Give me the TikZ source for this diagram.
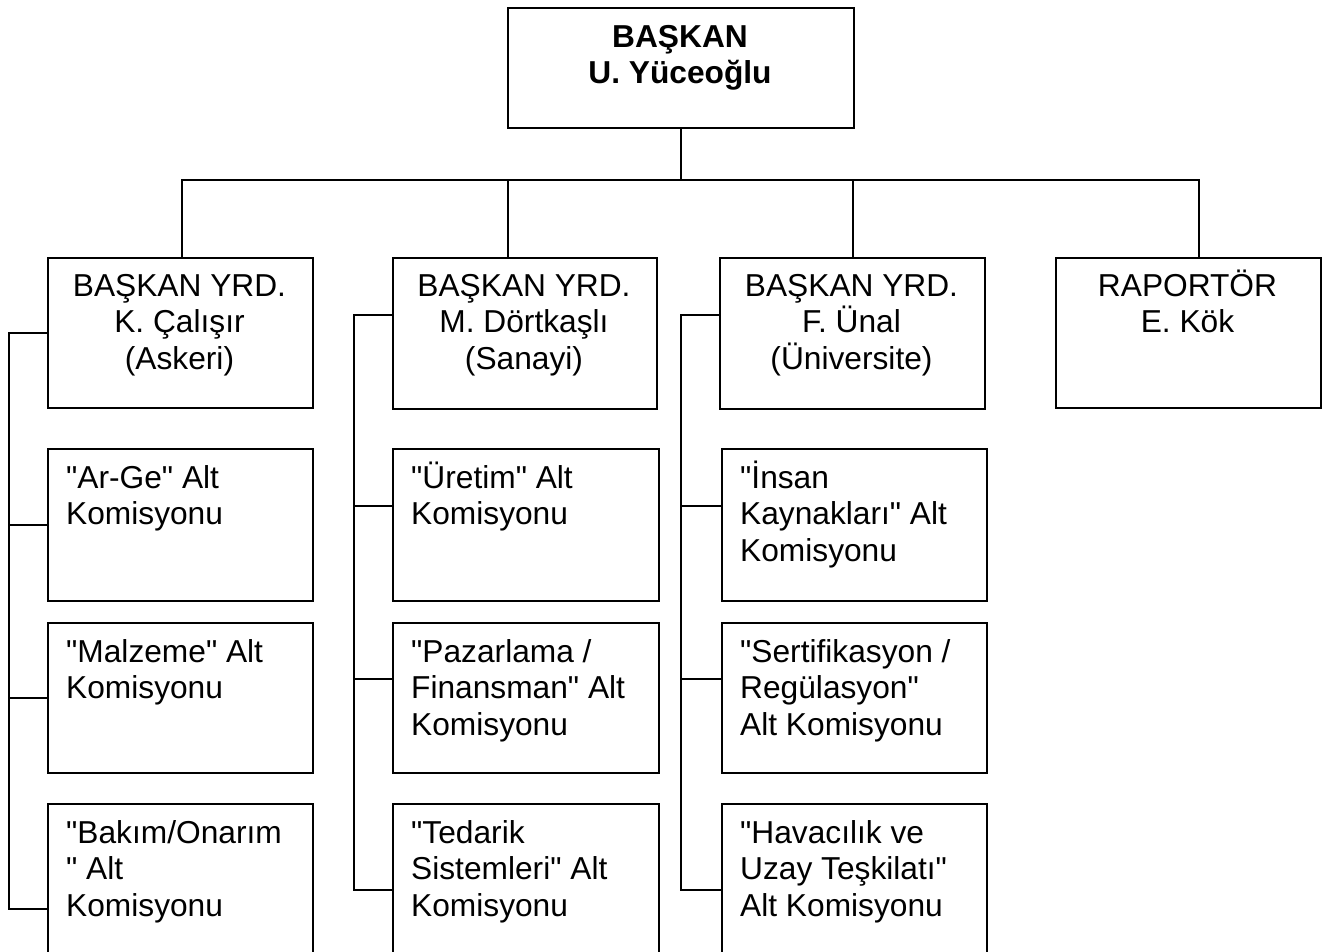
\documentclass[tikz,border=0pt]{standalone}
\usepackage{fontspec}
\setmainfont{Liberation Sans}[Ligatures=TeXOff]
\usetikzlibrary{calc}
\begin{document}
\begin{tikzpicture}[x=1pt,y=-1pt,
  box/.style={draw, line width=2pt, inner sep=0pt, anchor=north west},
  link/.style={line width=2pt},
  txt/.style={inner sep=0pt, font=\fontsize{31.7}{36.7}\selectfont},
  btxt/.style={inner sep=0pt, font=\fontsize{31.7}{36.2}\selectfont\bfseries, align=center, anchor=north},
  ctxt/.style={txt, align=center, anchor=north},
  ltxt/.style={txt, align=left, anchor=north west}]
\useasboundingbox (0,0) rectangle (1334,951);
\clip (0,0) rectangle (1334,951);
% boxes
\node[box, minimum width=346pt, minimum height=120pt] (top) at (507,7) {};
\node[box, minimum width=265pt, minimum height=150pt] (b1) at (47,257) {};
\node[box, minimum width=264pt, minimum height=151pt] (b2) at (392,257) {};
\node[box, minimum width=265pt, minimum height=151pt] (b3) at (719,257) {};
\node[box, minimum width=265pt, minimum height=150pt] (b4) at (1055,257) {};
\node[box, minimum width=265pt, minimum height=152pt] (a1) at (47,448) {};
\node[box, minimum width=265pt, minimum height=150pt] (a2) at (47,622) {};
\node[box, minimum width=265pt, minimum height=210pt] (a3) at (47,803) {};
\node[box, minimum width=266pt, minimum height=152pt] (m1) at (392,448) {};
\node[box, minimum width=266pt, minimum height=150pt] (m2) at (392,622) {};
\node[box, minimum width=266pt, minimum height=210pt] (m3) at (392,803) {};
\node[box, minimum width=265pt, minimum height=152pt] (u1) at (721,448) {};
\node[box, minimum width=265pt, minimum height=150pt] (u2) at (721,622) {};
\node[box, minimum width=265pt, minimum height=210pt] (u3) at (721,803) {};
% texts
\node[btxt] (ttop) at (680,17) {\rule{0pt}{30pt}BAŞKAN\\U. Yüceoğlu};
\node[ctxt] (tb1) at (179.5,266) {\rule{0pt}{30pt}BAŞKAN YRD.\\K. Çalışır\\(Askeri)};
\node[ctxt] (tb2) at (524,266) {\rule{0pt}{30pt}BAŞKAN YRD.\\M. Dörtkaşlı\\(Sanayi)};
\node[ctxt] (tb3) at (851.5,266) {\rule{0pt}{30pt}BAŞKAN YRD.\\F. Ünal\\(Üniversite)};
\node[ctxt] (tb4) at (1187.5,266) {\rule{0pt}{30pt}RAPORTÖR\\E. Kök};
\node[ltxt] (ta1) at (66,458) {\rule{0pt}{30pt}"Ar-Ge" Alt\\Komisyonu};
\node[ltxt] (ta2) at (66,632) {\rule{0pt}{30pt}"Malzeme" Alt\\Komisyonu};
\node[ltxt] (ta3) at (66,813) {\rule{0pt}{30pt}"Bakım/Onarım\\" Alt\\Komisyonu};
\node[ltxt] (tm1) at (411,458) {\rule{0pt}{30pt}"Üretim" Alt\\Komisyonu};
\node[ltxt] (tm2) at (411,632) {\rule{0pt}{30pt}"Pazarlama /\\Finansman" Alt\\Komisyonu};
\node[ltxt] (tm3) at (411,813) {\rule{0pt}{30pt}"Tedarik\\Sistemleri" Alt\\Komisyonu};
\node[ltxt] (tu1) at (740,458) {\rule{0pt}{30pt}"İnsan\\Kaynakları" Alt\\Komisyonu};
\node[ltxt] (tu2) at (740,632) {\rule{0pt}{30pt}"Sertifikasyon /\\Regülasyon"\\Alt Komisyonu};
\node[ltxt] (tu3) at (740,813) {\rule{0pt}{30pt}"Havacılık ve\\Uzay Teşkilatı"\\Alt Komisyonu};
% top connectors
\coordinate (bar) at (681,179.5);
\coordinate (d1) at (181.5,179.5);
\coordinate (d2) at (508,179.5);
\coordinate (d3) at (853,179.5);
\coordinate (d4) at (1199,179.5);
\draw[link] (bar |- top.south) -- (bar);
\draw[link] (b1.north -| d1) -- (d1) -- (d4) -- (d4 |- b4.north);
\draw[link] (d2) -- (d2 |- b2.north);
\draw[link] (d3) -- (d3 |- b3.north);
% left spines
\coordinate (s1) at (8.5,0);
\coordinate (s2) at (353.5,0);
\coordinate (s3) at (681,0);
\draw[link] (b1.west) -- (s1 |- b1.west) -- (s1 |- a3.west) -- (a3.west);
\draw[link] (s1 |- a1.west) -- (a1.west);
\draw[link] (s1 |- a2.west) -- (a2.west);
\draw[link] ($(b2.west)+(0,-19)$) -- ($(s2 |- b2.west)+(0,-19)$) -- ($(s2 |- m3.west)+(0,-19)$) -- ($(m3.west)+(0,-19)$);
\draw[link] ($(s2 |- m1.west)+(0,-19)$) -- ($(m1.west)+(0,-19)$);
\draw[link] ($(s2 |- m2.west)+(0,-19)$) -- ($(m2.west)+(0,-19)$);
\draw[link] ($(b3.west)+(0,-19)$) -- ($(s3 |- b3.west)+(0,-19)$) -- ($(s3 |- u3.west)+(0,-19)$) -- ($(u3.west)+(0,-19)$);
\draw[link] ($(s3 |- u1.west)+(0,-19)$) -- ($(u1.west)+(0,-19)$);
\draw[link] ($(s3 |- u2.west)+(0,-19)$) -- ($(u2.west)+(0,-19)$);
\end{tikzpicture}
\end{document}
